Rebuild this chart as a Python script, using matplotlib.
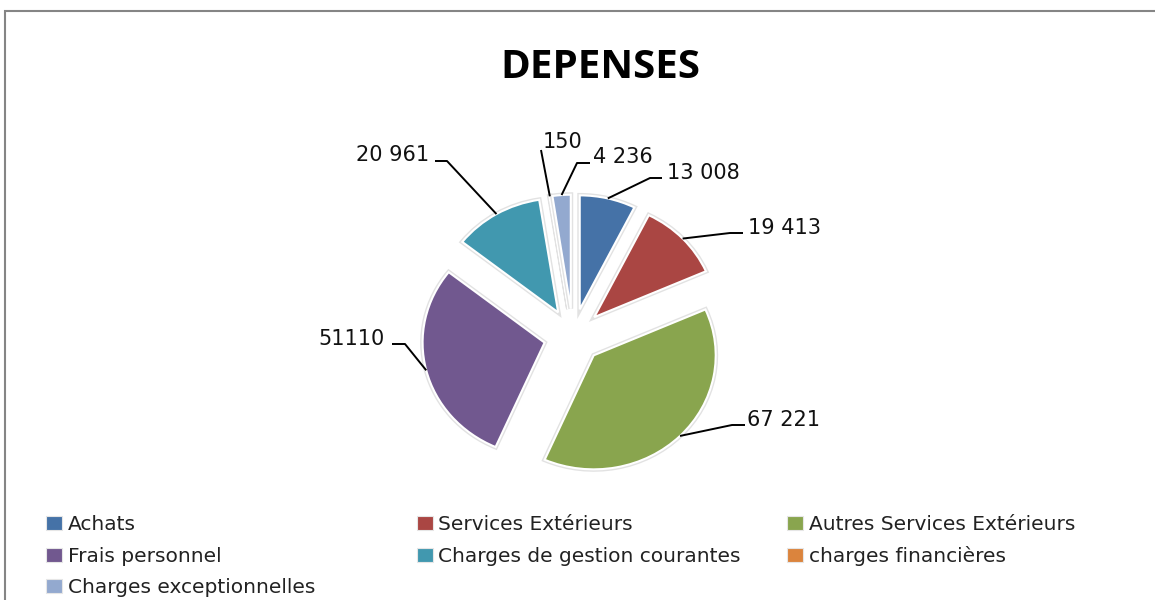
import numpy as np
import matplotlib
matplotlib.use("Agg")
import matplotlib.pyplot as plt
from matplotlib.patches import Rectangle
import matplotlib.patheffects as pe

# ---- data ----
categories = ["Achats", "Services Extérieurs", "Autres Services Extérieurs",
              "Frais personnel", "Charges de gestion courantes",
              "charges financières", "Charges exceptionnelles"]
values = [13008, 19413, 67221, 51110, 20961, 150, 4236]
value_labels = ["13 008", "19 413", "67 221", "51110", "20 961", "150", "4 236"]
colors = ["#4572A7", "#AA4643", "#89A54E", "#71588F", "#4198AF", "#DB843D", "#93A9CF"]
title = "DEPENSES"

# ---- layout (pixels of the 1155x600 canvas, y from top) ----
W, H = 1155, 600
cx, cy = 573, 336          # pie centre
Rx, Ry = 122, 114          # pie radii in pixels
# (text x, text baseline y, ha, elbow x, elbow y, end x, end y)
label_layout = [
    (667, 179, "left", 650, 178, 662, 178),
    (748, 234, "left", 730, 233, 743, 233),
    (747, 426, "left", 732, 425, 745, 425),
    (385, 345, "right", 405, 344, 392, 344),
    (429, 161, "right", 447, 161, 435, 161),
    (543, 148, "left", 541, 150, 541, 150),
    (593, 163, "left", 577, 163, 590, 163),
]

plt.rcParams["font.family"] = ["DejaVu Sans"]

fig = plt.figure(figsize=(W / 100, H / 100), dpi=100)
fig.patch.set_facecolor("white")

xl, yl = 2.5, 2.2
ax = fig.add_axes([(cx - xl * Rx) / W, (H - (cy + yl * Ry)) / H,
                   2 * xl * Rx / W, 2 * yl * Ry / H])

wedges, _ = ax.pie(values, colors=colors, explode=[0.24] * len(values),
                   startangle=90, counterclock=False, radius=1,
                   wedgeprops=dict(edgecolor="white", linewidth=1.5,
                                   path_effects=[pe.withStroke(linewidth=3.5, foreground="#e2e2e2")]))
ax.set_aspect("auto")
ax.set_xlim(-xl, xl)
ax.set_ylim(-yl, yl)
ax.axis("off")


def to_data(px, py):
    return (px - cx) / Rx, (cy - py) / Ry


for w, txt, lay in zip(wedges, value_labels, label_layout):
    tx, ty, ha, ex, ey, nx, ny = lay
    th = np.deg2rad((w.theta1 + w.theta2) / 2)
    x0, y0 = w.center
    sx, sy = x0 + w.r * np.cos(th), y0 + w.r * np.sin(th)
    e = to_data(ex, ey)
    n = to_data(nx, ny)
    ax.plot([sx, e[0], n[0]], [sy, e[1], n[1]], color="black", lw=1.4,
            solid_capstyle="butt", clip_on=False, zorder=5)
    t = to_data(tx, ty)
    ax.text(t[0], t[1], txt, ha=ha, va="baseline", fontsize=15, color="#111111")

# title
fig.text(600 / W, 1 - 78 / H, title, ha="center", va="baseline",
         fontsize=29, fontweight="bold", family=["Open Sans", "DejaVu Sans"], color="black")

# legend (3 columns, row-wise like the original)
for i, (lab, col) in enumerate(zip(categories, colors)):
    r, c = divmod(i, 3)
    x0 = 46 + 370.5 * c
    base = 530 + 31.5 * r
    fig.add_artist(Rectangle((x0 / W, 1 - base / H), 16 / W, 14 / H,
                             transform=fig.transFigure, facecolor=col,
                             edgecolor="#e6e6e6", linewidth=0.8))
    fig.text((x0 + 22) / W, 1 - base / H, lab, ha="left", va="baseline",
             fontsize=14.5, color="#222222")

# chart frame (top and left edges visible)
fig.add_artist(Rectangle((5 / W, -0.05), 1.2, 1.05 - 11 / H,
                         transform=fig.transFigure, facecolor="none",
                         edgecolor="#858585", linewidth=1.5))

fig.savefig("out.png", dpi=100, facecolor="white")
